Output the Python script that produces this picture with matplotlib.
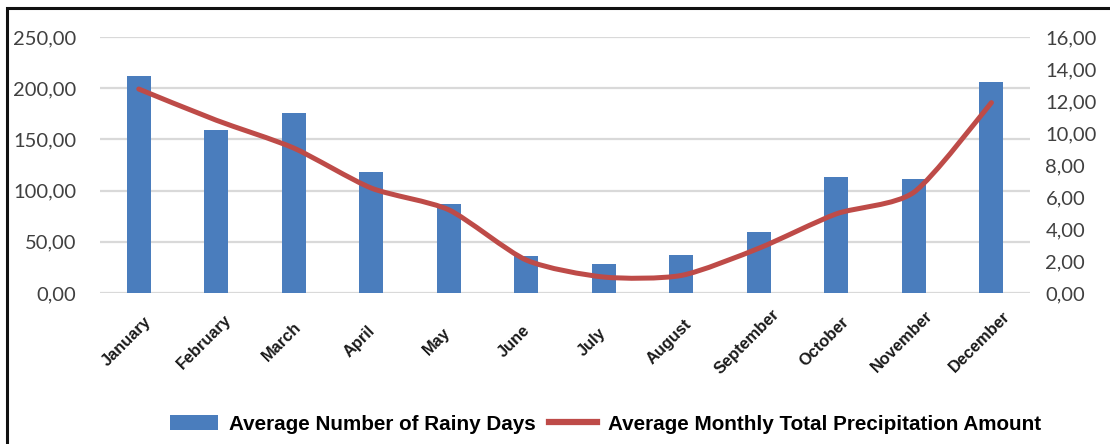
import matplotlib
matplotlib.use("Agg")
import matplotlib.pyplot as plt
from matplotlib.path import Path
from matplotlib.patches import PathPatch, Rectangle
from matplotlib.lines import Line2D
from matplotlib.patches import Patch
from matplotlib.ticker import FuncFormatter
from matplotlib.transforms import ScaledTranslation

months = ["January", "February", "March", "April", "May", "June",
          "July", "August", "September", "October", "November", "December"]
rainy_days = [212, 159, 176, 118, 87, 36, 28, 37, 59.5, 113, 111, 206]
precipitation = [12.75, 10.8, 9.06, 6.56, 5.2, 2.06, 1.0, 1.1, 2.8, 4.95, 6.3, 11.9]

left_ticks = [0, 50, 100, 150, 200, 250]
right_ticks = [0, 2, 4, 6, 8, 10, 12, 14, 16]

BAR_BLUE = "#4A7DBD"
LINE_RED = "#BE4B48"
GRID = "#D9D9D9"
TICK_GREY = "#404040"

fig = plt.figure(figsize=(11.1, 4.44), dpi=100)
ax = fig.add_axes([0.0901, 0.340, 0.838, 0.5766])
ax2 = ax.twinx()

x = list(range(len(months)))
ax.bar(x, rainy_days, width=0.31, color=BAR_BLUE, zorder=2)
ax.set_xlim(-0.5, len(months) - 0.5)
ax.set_ylim(0, 250)
ax.set_yticks(left_ticks)
ax2.set_ylim(0, 16)
ax2.set_yticks(right_ticks)

comma = FuncFormatter(lambda v, p: f"{v:.2f}".replace(".", ","))
ax.yaxis.set_major_formatter(comma)
ax2.yaxis.set_major_formatter(comma)

ax.yaxis.grid(True, color=GRID, linewidth=1.6, zorder=0)
ax.set_axisbelow(True)

for a in (ax, ax2):
    for s in a.spines.values():
        s.set_visible(False)
    a.tick_params(axis="both", length=0)

ax.tick_params(axis="y", labelsize=14.5, labelcolor=TICK_GREY, pad=17)
ax2.tick_params(axis="y", labelsize=14.5, labelcolor=TICK_GREY, pad=11)
for lbl in ax.get_yticklabels() + ax2.get_yticklabels():
    lbl.set_fontfamily("Lato")

# Month labels: rotated, each box centred a little left of its tick
ax.set_xticks(x)
ax.set_xticklabels(months, rotation=45, ha="center", va="center",
                   fontsize=11.8, fontweight="bold",
                   fontfamily="Liberation Sans", color="#1a1a1a")
ax.tick_params(axis="x", pad=35)
shift = ScaledTranslation(-12 / 100, 0, fig.dpi_scale_trans)
for lbl in ax.get_xticklabels():
    lbl.set_transform(lbl.get_transform() + shift)

# Smoothed precipitation curve (Catmull-Rom converted to cubic Bezier)
pts = list(zip(x, precipitation))
verts = [pts[0]]
codes = [Path.MOVETO]
t = 0.12
for i in range(len(pts) - 1):
    p0 = pts[i - 1] if i > 0 else pts[i]
    p1 = pts[i]
    p2 = pts[i + 1]
    p3 = pts[i + 2] if i + 2 < len(pts) else pts[i + 1]
    c1 = (p1[0] + (p2[0] - p0[0]) * t, p1[1] + (p2[1] - p0[1]) * t)
    c2 = (p2[0] - (p3[0] - p1[0]) * t, p2[1] - (p3[1] - p1[1]) * t)
    verts += [c1, c2, p2]
    codes += [Path.CURVE4] * 3
ax2.add_patch(PathPatch(Path(verts, codes), facecolor="none", edgecolor=LINE_RED,
                        linewidth=3.6, capstyle="round", joinstyle="round", zorder=3))

handles = [Patch(facecolor=BAR_BLUE, edgecolor="none"),
           Line2D([0], [0], color=LINE_RED, linewidth=4.5)]
fig.legend(handles, ["Average Number of Rainy Days",
                     "Average Monthly Total Precipitation Amount"],
           loc="center", bbox_to_anchor=(0.5455, 0.045), ncol=2, frameon=False,
           prop={"family": "Liberation Sans", "weight": "bold", "size": 14.9},
           handlelength=2.3, handleheight=0.75, handletextpad=0.53, columnspacing=0.68)

# Frame around the figure
fig.add_artist(Rectangle((7 / 1110, -0.05), 1.2, (1 - 8 / 444) + 0.05,
                         transform=fig.transFigure, fill=False,
                         edgecolor="#111111", linewidth=2.2, zorder=10))

fig.savefig("out.png", dpi=100)
